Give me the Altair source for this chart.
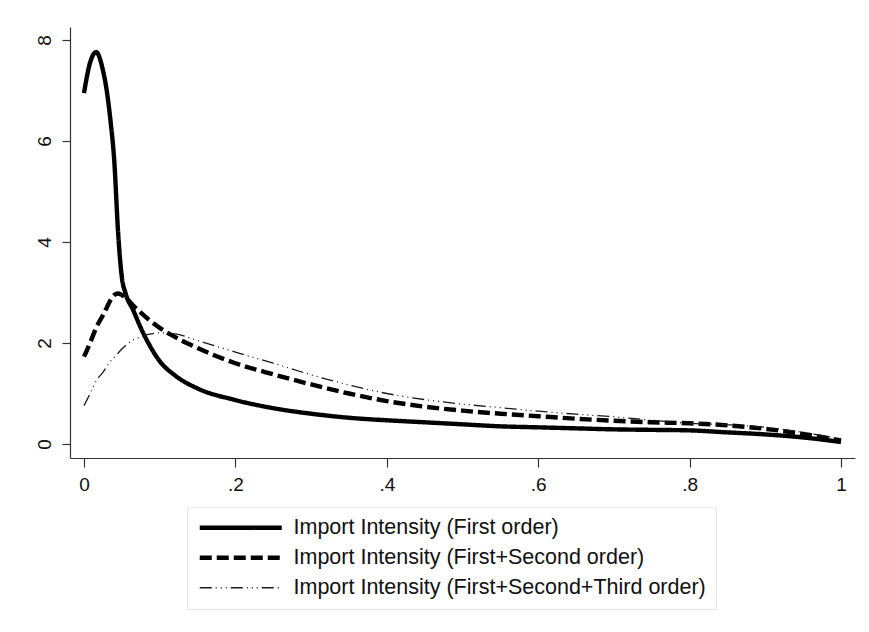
import altair as alt
import pandas as pd

# x grid (share of imported inputs)
x_vals = [0, 0.008, 0.016, 0.025, 0.03, 0.035, 0.04, 0.045, 0.05, 0.055, 0.065, 0.075,
          0.085, 0.1, 0.12, 0.15, 0.2, 0.25, 0.3, 0.35, 0.4, 0.45, 0.5, 0.55, 0.6, 0.65,
          0.7, 0.75, 0.8, 0.85, 0.9, 0.95, 1.0]

first_order = [6.95, 7.55, 7.76, 7.4, 7.0, 6.4, 5.6, 4.2, 3.3, 2.98, 2.65, 2.3,
               2.0, 1.64, 1.36, 1.1, 0.87, 0.71, 0.6, 0.52, 0.47, 0.43, 0.39, 0.35, 0.33, 0.31,
               0.29, 0.28, 0.27, 0.23, 0.19, 0.13, 0.04]

first_second = [1.73, 2.0, 2.3, 2.55, 2.7, 2.85, 2.95, 2.98, 2.95, 2.9, 2.74, 2.6,
                2.47, 2.3, 2.12, 1.9, 1.6, 1.38, 1.18, 1.0, 0.85, 0.74, 0.66, 0.6, 0.55, 0.5,
                0.46, 0.43, 0.41, 0.37, 0.3, 0.2, 0.07]

first_second_third = [0.76, 1.0, 1.25, 1.42, 1.53, 1.64, 1.72, 1.8, 1.88, 1.95, 2.06, 2.12,
                      2.17, 2.2, 2.18, 2.05, 1.82, 1.6, 1.37, 1.17, 1.0, 0.88, 0.79, 0.72, 0.65, 0.59,
                      0.54, 0.47, 0.41, 0.38, 0.33, 0.23, 0.1]

series_names = [
    "Import Intensity (First order)",
    "Import Intensity (First+Second order)",
    "Import Intensity (First+Second+Third order)",
]

x_ticks = [0, 0.2, 0.4, 0.6, 0.8, 1.0]
x_tick_labels = ["0", ".2", ".4", ".6", ".8", "1"]
y_ticks = [0, 2, 4, 6, 8]

rows = []
for name, ys in zip(series_names, [first_order, first_second, first_second_third]):
    for xv, yv in zip(x_vals, ys):
        rows.append({"x": xv, "y": yv, "series": name})
df = pd.DataFrame(rows)

label_expr = " : ".join(
    f"abs(datum.value - {v}) < 1e-6 ? '{lab}'" for v, lab in zip(x_ticks, x_tick_labels)
) + " : ''"

FONT = "Liberation Sans"

chart = alt.Chart(df).mark_line(interpolate="monotone", strokeCap="butt").encode(
    x=alt.X("x:Q",
            scale=alt.Scale(domain=[-0.0185, 1.0185], nice=False, zero=False),
            axis=alt.Axis(values=x_ticks, labelExpr=label_expr, title=None,
                          tickSize=9, labelPadding=8, grid=False)),
    y=alt.Y("y:Q",
            scale=alt.Scale(domain=[-0.277, 8.257], nice=False, zero=False),
            axis=alt.Axis(values=y_ticks, title=None, labelAngle=270,
                          tickSize=8, labelPadding=8, grid=False)),
    color=alt.Color("series:N",
                    scale=alt.Scale(type="ordinal", domain=series_names,
                                    range=["#000000", "#000000", "#1a1a1a"]),
                    legend=alt.Legend(title=None)),
    strokeDash=alt.StrokeDash("series:N",
                              scale=alt.Scale(type="ordinal", domain=series_names,
                                              range=[[1, 0], [12, 5], [12, 4, 1, 4, 1, 4, 1, 4]]),
                              legend=alt.Legend(title=None)),
    strokeWidth=alt.StrokeWidth("series:N",
                                scale=alt.Scale(type="ordinal", domain=series_names,
                                                range=[4.4, 4.4, 1.3]),
                                legend=alt.Legend(title=None)),
).properties(
    width=785,
    height=431,
    autosize=alt.AutoSizeParams(type="none"),
    padding={"left": 62, "top": 19, "right": 6, "bottom": 160},
).configure_view(
    stroke=None
).configure_axis(
    domainColor="#333333",
    tickColor="#333333",
    labelColor="#111111",
    labelFont=FONT,
    labelFontSize=19,
    domainWidth=1.2,
    tickWidth=1.2,
).configure_legend(
    orient="none",
    legendX=117,
    legendY=480,
    symbolType="M-5.125,0H5.125",
    symbolSize=256,
    symbolOffset=33,
    labelFont=FONT,
    labelFontSize=21.5,
    labelColor="#111111",
    labelOffset=42,
    labelLimit=700,
    rowPadding=7,
    padding=10,
    fillColor="#ffffff",
    strokeColor="#e2e8ec",
    symbolStrokeColor="#000000",
)

chart.save("out.html", embed_options={"renderer": "svg", "actions": False})
